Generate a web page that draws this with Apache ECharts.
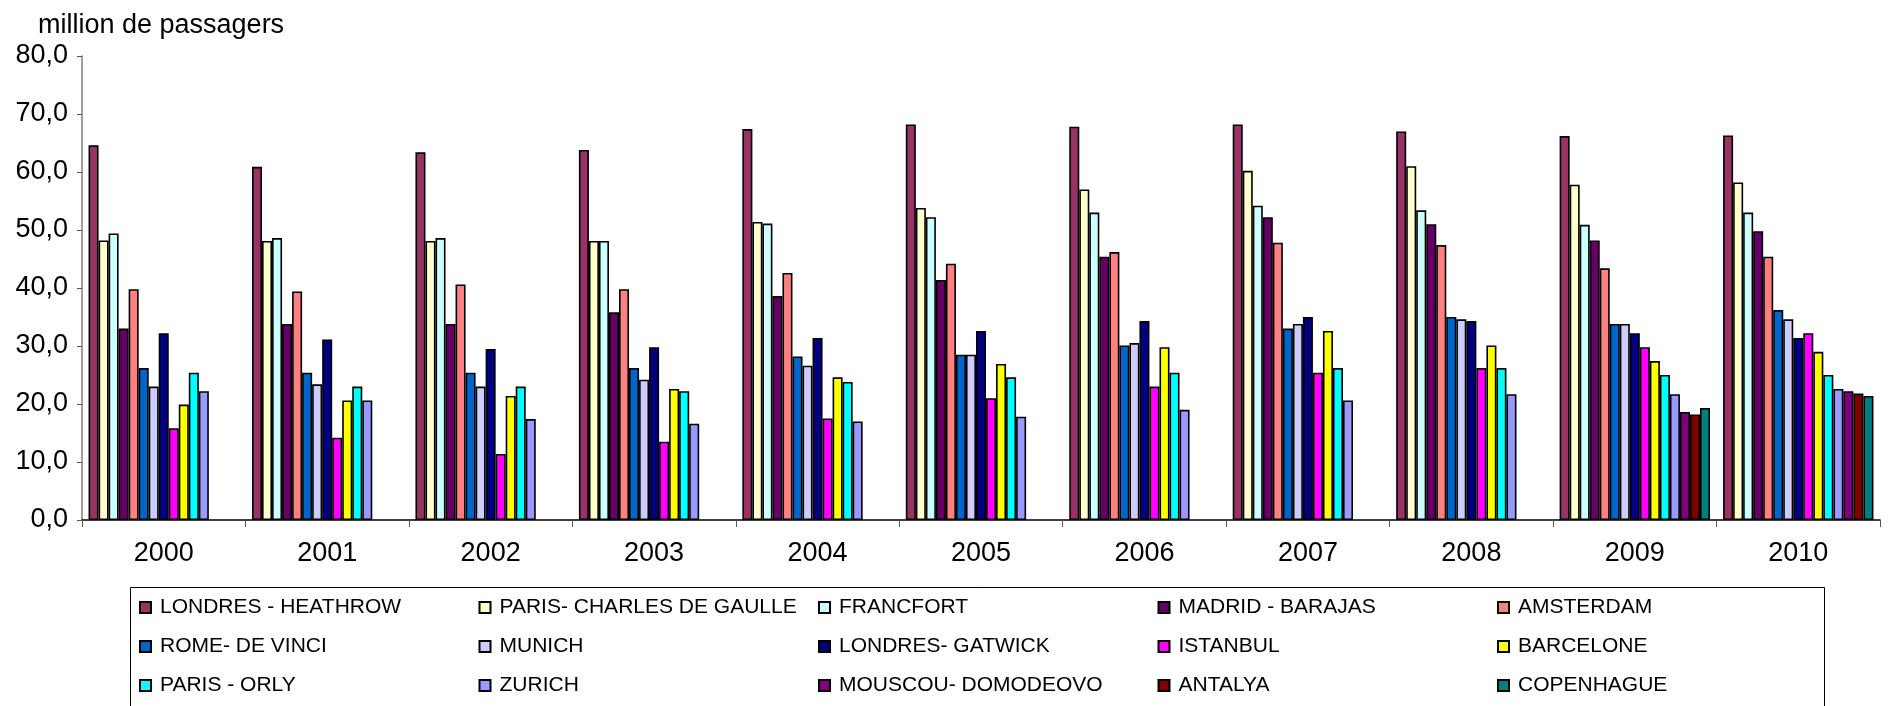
<!DOCTYPE html>
<html>
<head>
<meta charset="utf-8">
<script src="https://cdn.jsdelivr.net/npm/echarts@6/dist/echarts.min.js"></script>
<style>
html,body{margin:0;padding:0;background:#fff;}
#chart{width:1888px;height:706px;}
</style>
</head>
<body>
<div id="chart"></div>
<script>
const years = ['2000','2001','2002','2003','2004','2005','2006','2007','2008','2009','2010'];
const yTicks = [0,10,20,30,40,50,60,70,80];

const seriesNames = ['LONDRES - HEATHROW','PARIS- CHARLES DE GAULLE','FRANCFORT','MADRID - BARAJAS','AMSTERDAM',
  'ROME- DE VINCI','MUNICH','LONDRES- GATWICK','ISTANBUL','BARCELONE',
  'PARIS - ORLY','ZURICH','MOUSCOU- DOMODEOVO','ANTALYA','COPENHAGUE'];
const seriesColors = ['#993366','#FFFFCC','#CCFFFF','#660066','#FF8080',
  '#0066CC','#CCCCFF','#000080','#FF00FF','#FFFF00',
  '#00FFFF','#9999FF','#800080','#800000','#008080'];

const heathrow  = [64.6, 60.9, 63.4, 63.8, 67.4, 68.2, 67.8, 68.2, 67.0, 66.2, 66.3];
const cdg       = [48.2, 48.1, 48.1, 48.1, 51.4, 53.8, 57.0, 60.2, 61.0, 57.8, 58.2];
const francfort = [49.4, 48.6, 48.6, 48.1, 51.1, 52.2, 53.0, 54.2, 53.4, 50.9, 53.0];
const madrid    = [33.0, 33.8, 33.8, 35.8, 38.6, 41.4, 45.4, 52.2, 51.0, 48.2, 49.8];
const amsterdam = [39.8, 39.4, 40.6, 39.8, 42.6, 44.2, 46.2, 47.8, 47.4, 43.4, 45.4];
const rome      = [26.2, 25.4, 25.4, 26.2, 28.2, 28.5, 30.1, 33.0, 35.0, 33.8, 36.2];
const munich    = [23.0, 23.4, 23.0, 24.2, 26.6, 28.5, 30.5, 33.8, 34.6, 33.8, 34.6];
const gatwick   = [32.2, 31.1, 29.5, 29.8, 31.4, 32.6, 34.3, 35.0, 34.3, 32.2, 31.4];
const istanbul  = [15.8, 14.2, 11.4, 13.5, 17.5, 21.0, 23.0, 25.4, 26.2, 29.8, 32.2];
const barcelone = [19.9, 20.6, 21.4, 22.6, 24.6, 26.9, 29.8, 32.6, 30.1, 27.4, 29.0];
const orly      = [25.4, 23.0, 23.0, 22.2, 23.8, 24.6, 25.4, 26.2, 26.2, 25.0, 25.0];
const zurich    = [22.2, 20.6, 17.4, 16.6, 17.0, 17.8, 19.0, 20.6, 21.7, 21.7, 22.6];
const moscou    = [null, null, null, null, null, null, null, null, null, 18.6, 22.2];
const antalya   = [null, null, null, null, null, null, null, null, null, 18.2, 21.8];
const copenhague= [null, null, null, null, null, null, null, null, null, 19.3, 21.4];

const allData = [heathrow, cdg, francfort, madrid, amsterdam, rome, munich, gatwick,
  istanbul, barcelone, orly, zurich, moscou, antalya, copenhague];

const FONT = '"Liberation Sans", Arial, sans-serif';

const series = seriesNames.map((name, i) => ({
  name: name,
  type: 'bar',
  data: allData[i],
  barGap: '0%',
  barCategoryGap: '8%',
  itemStyle: { color: seriesColors[i], borderColor: '#000', borderWidth: 1.6 },
  emphasis: { disabled: true },
  animation: false
}));

// legend: 5 columns x 3 rows, row-major order
const colX = [139, 478.5, 818, 1157.5, 1497];
const legends = colX.map((x, c) => ({
  orient: 'vertical',
  left: x,
  top: 597,
  itemWidth: 11,
  itemHeight: 11,
  itemGap: 18,
  icon: 'rect',
  selectedMode: false,
  padding: 0,
  data: [0,1,2].map(r => seriesNames[r*5 + c]).filter(Boolean),
  textStyle: { fontFamily: FONT, fontSize: 21, color: '#000', lineHeight: 21, padding: [0,0,0,4] }
}));

const chart = echarts.init(document.getElementById('chart'), null, { renderer: 'canvas' });
chart.setOption({
  backgroundColor: '#fff',
  animation: false,
  title: {
    text: 'million de passagers',
    left: 33, top: 7,
    textStyle: { fontFamily: FONT, fontSize: 27, fontWeight: 'normal', color: '#000' }
  },
  grid: { left: 82, right: 8, top: 56, bottom: 186, containLabel: false },
  legend: legends,
  xAxis: {
    type: 'category',
    data: years,
    boundaryGap: true,
    axisLine: { lineStyle: { color: '#000', width: 1.5 } },
    axisTick: { show: true, length: 7, alignWithLabel: false, lineStyle: { color: '#555' } },
    axisLabel: { fontFamily: FONT, fontSize: 27, color: '#000', margin: 20 },
    splitLine: { show: false }
  },
  yAxis: {
    type: 'value',
    min: yTicks[0], max: yTicks[yTicks.length-1], interval: 10,
    axisLine: { show: true, lineStyle: { color: '#808080', width: 1.5 } },
    axisTick: { show: true, length: 5, lineStyle: { color: '#555' } },
    axisLabel: { fontFamily: FONT, fontSize: 27, color: '#000', margin: 14,
      formatter: v => v.toFixed(1).replace('.', ',') },
    splitLine: { show: false }
  },
  graphic: [{
    type: 'rect',
    shape: { x: 130.5, y: 587.5, width: 1694, height: 140 },
    style: { fill: 'none', stroke: '#000', lineWidth: 1 },
    silent: true, z: -1
  }],
  series: series
});
</script>
</body>
</html>
